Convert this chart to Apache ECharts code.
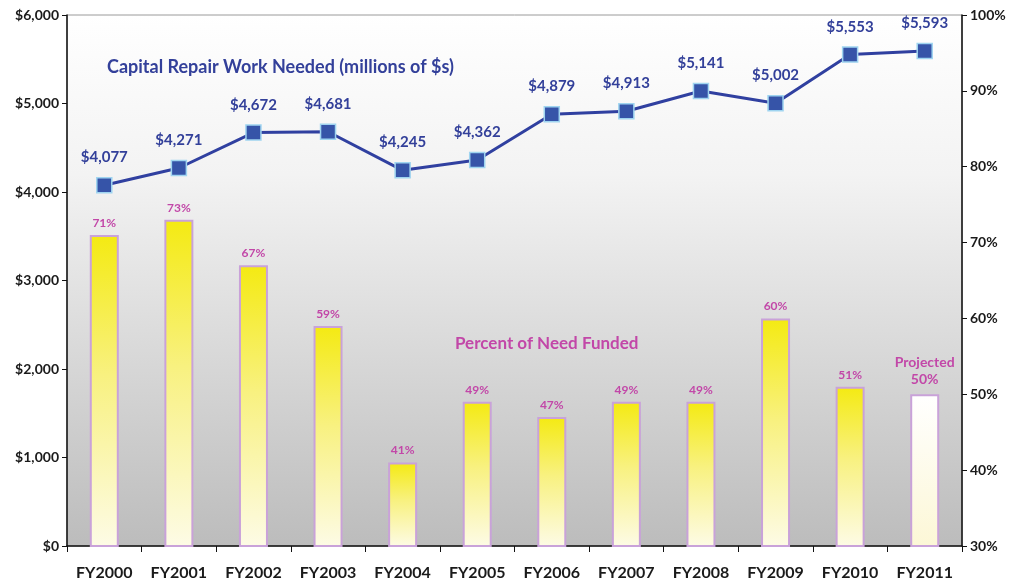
<!DOCTYPE html>
<html>
<head>
<meta charset="utf-8">
<script src="https://cdn.jsdelivr.net/npm/echarts@6/dist/echarts.min.js"></script>
<style>
  html, body { margin: 0; padding: 0; background: #fff; }
  #main { width: 1016px; height: 584px; }
</style>
</head>
<body>
<div id="main"></div>
<script>
// data
var years = ['FY2000', 'FY2001', 'FY2002', 'FY2003', 'FY2004', 'FY2005', 'FY2006', 'FY2007', 'FY2008', 'FY2009', 'FY2010', 'FY2011'];
var repairNeeded = [4077, 4271, 4672, 4681, 4245, 4362, 4879, 4913, 5141, 5002, 5553, 5593];
var pctFunded = [71, 73, 67, 59, 41, 49, 47, 49, 49, 60, 51, 50];
var projectedIdx = 11;

var font = 'Lato, "Open Sans", sans-serif';

function money(v) {
  return '$' + String(v).replace(/\B(?=(\d{3})+(?!\d))/g, ',');
}

var yellowFill = new echarts.graphic.LinearGradient(0, 0, 0, 1, [
  { offset: 0, color: '#f4ea12' },
  { offset: 0.45, color: '#f8f180' },
  { offset: 1, color: '#fdfbe6' }
]);
var whiteFill = new echarts.graphic.LinearGradient(0, 0, 0, 1, [
  { offset: 0, color: '#ffffff' },
  { offset: 1, color: '#fcf7d6' }
]);

var barData = pctFunded.map(function (v, i) {
  return {
    value: v,
    itemStyle: { color: i === projectedIdx ? whiteFill : yellowFill },
    label: i === projectedIdx ? { formatter: 'Projected\n{c}%', fontSize: 14, lineHeight: 17 } : {}
  };
});

var myChart = echarts.init(document.getElementById('main'));
myChart.setOption({
  animation: false,
  backgroundColor: '#ffffff',
  textStyle: { fontFamily: font },
  title: [
    {
      text: 'Capital Repair Work Needed (millions of $s)',
      left: 102, top: 53,
      textStyle: { color: '#33409a', fontSize: 18, fontWeight: 'bold', fontFamily: font }
    },
    {
      text: 'Percent of Need Funded',
      left: 450, top: 330,
      textStyle: { color: '#c247a8', fontSize: 17, fontWeight: 'bold', fontFamily: font }
    }
  ],
  grid: {
    left: 67, right: 54, top: 15, bottom: 38,
    show: true,
    borderColor: '#9a9a9a',
    borderWidth: 1,
    backgroundColor: new echarts.graphic.LinearGradient(0, 0, 0, 1, [
      { offset: 0, color: '#ffffff' },
      { offset: 0.3, color: '#f3f3f3' },
      { offset: 1, color: '#bcbcbc' }
    ])
  },
  xAxis: {
    type: 'category',
    data: years,
    boundaryGap: true,
    axisLine: { lineStyle: { color: '#111', width: 1.5 } },
    axisTick: { show: true, length: 6, lineStyle: { color: '#111' } },
    axisLabel: { color: '#1a1a1a', fontSize: 16, fontWeight: 'bold', margin: 19, fontFamily: font }
  },
  yAxis: [
    {
      type: 'value',
      min: 0, max: 6000, interval: 1000,
      position: 'left',
      axisLine: { show: true, lineStyle: { color: '#111', width: 1.5 } },
      axisTick: { show: true, length: 5, lineStyle: { color: '#111' } },
      splitLine: { show: false },
      axisLabel: { color: '#1a1a1a', fontSize: 14, fontWeight: 'bold', margin: 8, formatter: money, fontFamily: font }
    },
    {
      type: 'value',
      min: 30, max: 100, interval: 10,
      position: 'right',
      axisLine: { show: true, lineStyle: { color: '#111', width: 1.5 } },
      axisTick: { show: true, length: 5, lineStyle: { color: '#111' } },
      splitLine: { show: false },
      axisLabel: { color: '#1a1a1a', fontSize: 14, fontWeight: 'bold', margin: 8, formatter: '{value}%', fontFamily: font }
    }
  ],
  series: [
    {
      name: 'Percent of Need Funded',
      type: 'bar',
      yAxisIndex: 1,
      barWidth: 29,
      data: barData,
      itemStyle: { borderColor: '#c9a2d9', borderWidth: 2 },
      label: {
        show: true,
        position: 'top',
        distance: 6,
        formatter: '{c}%',
        color: '#c247a8',
        fontSize: 12,
        fontWeight: 'bold',
        fontFamily: font
      }
    },
    {
      name: 'Capital Repair Work Needed',
      type: 'line',
      yAxisIndex: 0,
      data: repairNeeded,
      symbol: 'rect',
      symbolSize: 15,
      lineStyle: { color: '#3040a0', width: 3 },
      itemStyle: { color: '#3654a8', borderColor: '#9fd4f0', borderWidth: 1.5 },
      label: {
        show: true,
        position: 'top',
        distance: 12,
        formatter: function (p) { return money(p.value); },
        color: '#33409a',
        fontSize: 15,
        fontWeight: 'bold',
        fontFamily: font
      },
      z: 5
    }
  ]
});
</script>
</body>
</html>
